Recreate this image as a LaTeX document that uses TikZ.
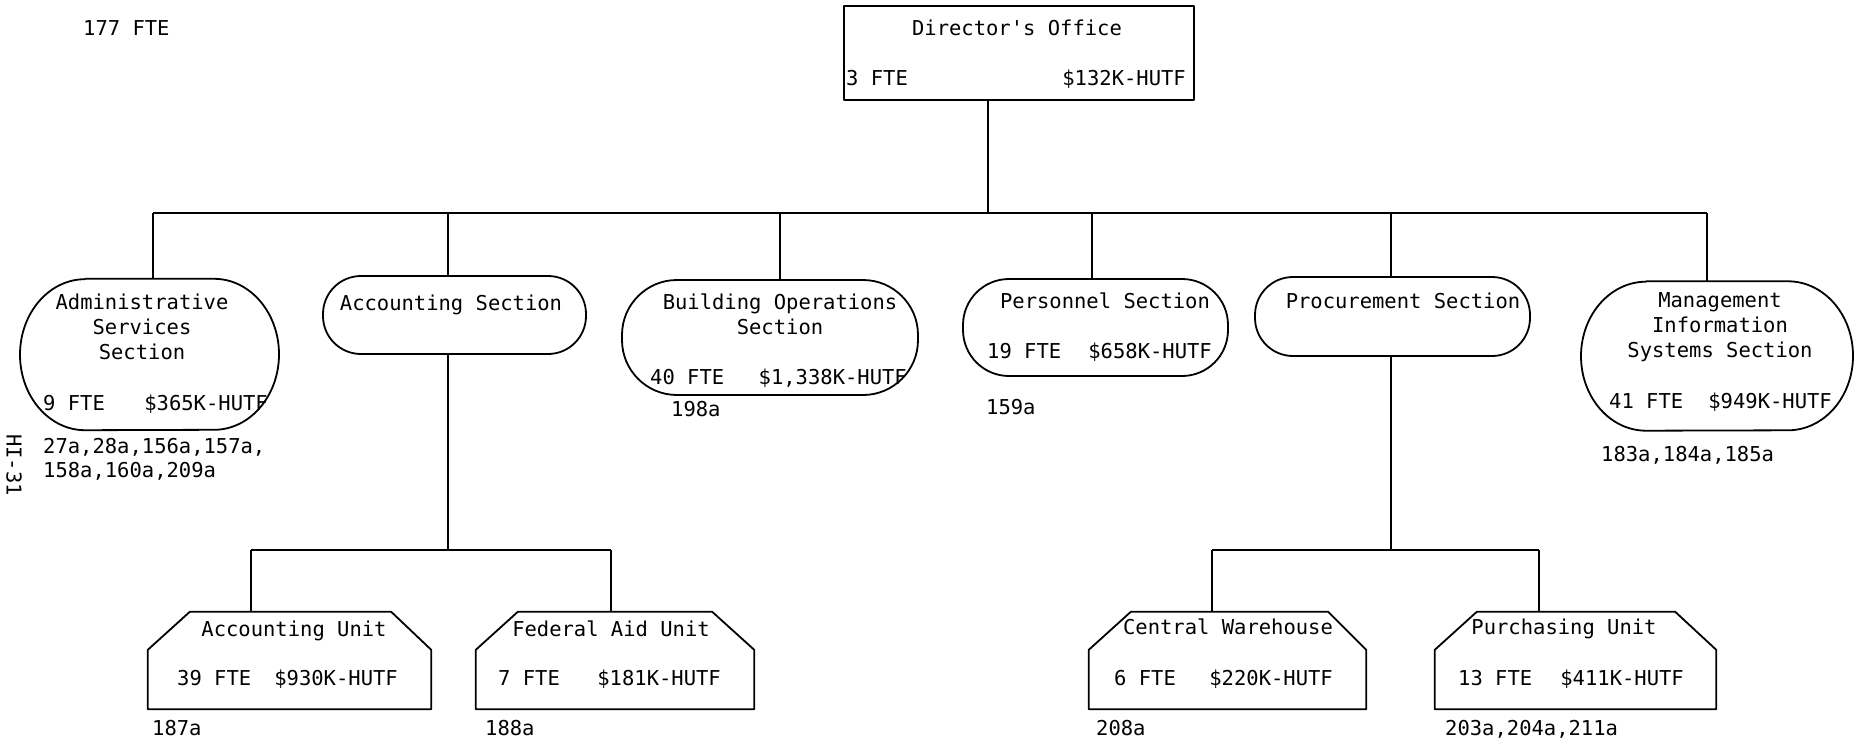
\documentclass[tikz,border=0pt]{standalone}
\usepackage{fontspec}
\setmonofont{DejaVu Sans Mono}
\newcommand\ellovalpath[4]{\draw[ln] ([xshift=-#2]#1.north) -- ([xshift=#2]#1.north) arc[start angle=90,end angle=-90,x radius=#3,y radius=#4] -- ([xshift=-#2]#1.south) arc[start angle=270,end angle=90,x radius=#3,y radius=#4] -- cycle;}
\begin{document}
\begin{tikzpicture}[x=1pt,y=-1pt,
  ln/.style={line width=1.8pt, draw=black, line join=round},
  t/.style={font=\ttfamily\fontsize{20.5}{25}\selectfont, inner sep=0pt, anchor=base},
  tl/.style={t, anchor=base west},
  tr/.style={t, anchor=base east},
  oval/.style={ln, inner sep=0pt, rounded corners=#1},
  ghost/.style={draw=none, inner sep=0pt},
  unitbox/.style={draw=none, inner sep=0pt, minimum height=97pt}
]
\fill[white] (0,0) rectangle (1860,746);
\useasboundingbox (0,0) rectangle (1860,746);

% ---------- boxes ----------
\node[ln, inner sep=0pt, minimum width=350pt, minimum height=94pt] (dir) at (1019,53) {};
\node[ghost, minimum width=259pt, minimum height=151pt] (adm) at (149.5,354.5) {};
\ellovalpath{adm}{64.5pt}{65pt}{75.5pt}
\node[oval=38pt, minimum width=263pt, minimum height=78pt] (acc) at (454.5,315) {};
\node[oval=55pt, minimum width=296pt, minimum height=115pt] (bld) at (770,337.5) {};
\node[oval=46pt, minimum width=265pt, minimum height=97pt] (per) at (1095.5,327.5) {};
\node[oval=38pt, minimum width=275pt, minimum height=79pt] (pro) at (1392.5,316.5) {};
\node[ghost, minimum width=272pt, minimum height=149pt] (mis) at (1717,356) {};
\ellovalpath{mis}{71pt}{65pt}{74.5pt}

\node[unitbox, minimum width=283pt] (au) at (289.5,660.5) {};
\node[unitbox, minimum width=278pt] (fa) at (615,660.5) {};
\node[unitbox, minimum width=277pt] (cw) at (1227.5,660.5) {};
\node[unitbox, minimum width=281pt] (pu) at (1575.5,660.5) {};

\draw[ln] (au.south west) -- ([yshift=-38pt]au.north west) -- ([xshift=42pt]au.north west) -- ([xshift=-40pt]au.north east) -- ([yshift=-38pt]au.north east) -- (au.south east) -- cycle;
\draw[ln] (fa.south west) -- ([yshift=-38pt]fa.north west) -- ([xshift=42pt]fa.north west) -- ([xshift=-42pt]fa.north east) -- ([yshift=-38pt]fa.north east) -- (fa.south east) -- cycle;
\draw[ln] (cw.south west) -- ([yshift=-38pt]cw.north west) -- ([xshift=42pt]cw.north west) -- ([xshift=-38pt]cw.north east) -- ([yshift=-38pt]cw.north east) -- (cw.south east) -- cycle;
\draw[ln] (pu.south west) -- ([yshift=-38pt]pu.north west) -- ([xshift=42pt]pu.north west) -- ([xshift=-41pt]pu.north east) -- ([yshift=-38pt]pu.north east) -- (pu.south east) -- cycle;

% ---------- connectors ----------
\coordinate (b0) at (988,213);
\coordinate (b1) at (153,213);
\coordinate (b2) at (448,213);
\coordinate (b3) at (780,213);
\coordinate (b4) at (1092,213);
\coordinate (b5) at (1391,213);
\coordinate (b6) at (1707,213);
\draw[ln] (b1) -- (b6);
\draw[ln] (dir.south -| b0) -- (b0);
\draw[ln] (b1) -- (b1 |- adm.north);
\draw[ln] (b2) -- (b2 |- acc.north);
\draw[ln] (b3) -- (b3 |- bld.north);
\draw[ln] (b4) -- (b4 |- per.north);
\draw[ln] (b5) -- (b5 |- pro.north);
\draw[ln] (b6) -- (b6 |- mis.north);

\coordinate (s1) at (448,550);
\coordinate (s1l) at (251,550);
\coordinate (s1r) at (611,550);
\draw[ln] (acc.south -| s1) -- (s1);
\draw[ln] (s1l) -- (s1r);
\draw[ln] (s1l) -- (s1l |- au.north);
\draw[ln] (s1r) -- (s1r |- fa.north);

\coordinate (s2) at (1391,550);
\coordinate (s2l) at (1212,550);
\coordinate (s2r) at (1539,550);
\draw[ln] (pro.south -| s2) -- (s2);
\draw[ln] (s2l) -- (s2r);
\draw[ln] (s2l) -- (s2l |- cw.north);
\draw[ln] (s2r) -- (s2r |- pu.north);

% ---------- texts ----------
\node[tl] (tot) at (83,35.5) {177 FTE};
\node[rotate=-90, font=\ttfamily\fontsize{20.5}{25}\selectfont, inner sep=0pt] (hi) at (14,465) {HI-31};

\node[t] (dir1) at (1017,35.5) {Director's Office};
\node[tl] (dir2) at (846,85.5) {3 FTE};
\node[tr] (dir3) at (1186,85.5) {\$132K-HUTF};

\node[t] (adm1) at (142,309.5) {Administrative};
\node[t] (adm2) at (142,334.5) {Services};
\node[t] (adm3) at (142,359.5) {Section};
\node[tl] (adm4) at (43,410.5) {9 FTE};
\node[tr] (adm5) at (268,410.5) {\$365K-HUTF};
\node[tl] (adm6) at (43,453.5) {27a,28a,156a,157a,};
\node[tl] (adm7) at (43,477.5) {158a,160a,209a};

\node[t] (acc1) at (451,310.5) {Accounting Section};

\node[t] (bld1) at (780,309.5) {Building Operations};
\node[t] (bld2) at (780,334.5) {Section};
\node[tl] (bld3) at (650,384.5) {40 FTE};
\node[tr] (bld4) at (907,384.5) {\$1,338K-HUTF};
\node[tl] (bld5) at (671,416.5) {198a};

\node[t] (per1) at (1105,308.5) {Personnel Section};
\node[tl] (per2) at (987,358.5) {19 FTE};
\node[tr] (per3) at (1212,358.5) {\$658K-HUTF};
\node[tl] (per4) at (986,414.5) {159a};

\node[t] (pro1) at (1403,308.5) {Procurement Section};

\node[t] (mis1) at (1720,307.5) {Management};
\node[t] (mis2) at (1720,332.5) {Information};
\node[t] (mis3) at (1720,357.5) {Systems Section};
\node[tl] (mis4) at (1609,408.5) {41 FTE};
\node[tr] (mis5) at (1832,408.5) {\$949K-HUTF};
\node[tl] (mis6) at (1601,461.5) {183a,184a,185a};

\node[t] (au1) at (294,636.5) {Accounting Unit};
\node[tl] (au2) at (177,685.5) {39 FTE};
\node[tr] (au3) at (398,685.5) {\$930K-HUTF};
\node[tl] (au4) at (152,735.5) {187a};

\node[t] (fa1) at (611,636.5) {Federal Aid Unit};
\node[tl] (fa2) at (498,685.5) {7 FTE};
\node[tr] (fa3) at (721,685.5) {\$181K-HUTF};
\node[tl] (fa4) at (485,735.5) {188a};

\node[t] (cw1) at (1228,634.5) {Central Warehouse};
\node[tl] (cw2) at (1114,685.5) {6 FTE};
\node[tr] (cw3) at (1333,685.5) {\$220K-HUTF};
\node[tl] (cw4) at (1096,735.5) {208a};

\node[t] (pu1) at (1564,634.5) {Purchasing Unit};
\node[tl] (pu2) at (1458,685.5) {13 FTE};
\node[tr] (pu3) at (1684,685.5) {\$411K-HUTF};
\node[tl] (pu4) at (1445,735.5) {203a,204a,211a};
\end{tikzpicture}
\end{document}
